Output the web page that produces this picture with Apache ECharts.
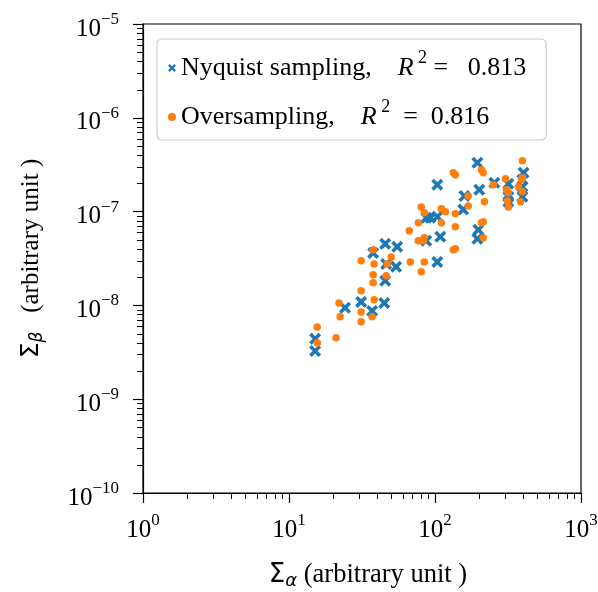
<!DOCTYPE html>
<html><head><meta charset="utf-8">
<script src="https://cdn.jsdelivr.net/npm/echarts@6/dist/echarts.min.js"></script>
<style>html,body{margin:0;padding:0;background:#fff}#c{width:598px;height:592px}</style>
</head><body><div id="c"></div>
<script>
// ---- data ----
const nyquistX = [15.1, 15.1, 24.2, 31.2, 37.1, 44.9, 37.7, 45.6, 55.1, 46.3, 54.2, 45.6, 103.7, 87.1, 103.7, 92.9, 87.1, 108.7, 103.7, 195, 159, 201, 156, 255, 318, 318, 318, 404, 397, 397, 198, 195, 397];
const nyquistY = [4.40e-9, 3.27e-9, 9.42e-9, 1.09e-8, 8.74e-9, 1.06e-8, 3.63e-8, 4.53e-8, 4.21e-8, 2.77e-8, 2.58e-8, 1.83e-8, 1.93e-7, 8.59e-8, 8.79e-8, 8.59e-8, 4.88e-8, 5.38e-8, 2.91e-8, 3.31e-7, 1.47e-7, 1.71e-7, 1.05e-7, 2.03e-7, 1.98e-7, 1.44e-7, 1.27e-7, 2.59e-7, 1.84e-7, 1.44e-7, 6.39e-8, 5.13e-8, 2.18e-7];
const overX = [15.6, 15.6, 21.0, 22.0, 22.4, 31.2, 31.2, 31.2, 38.3, 37.1, 31.2, 37.7, 38.3, 37.7, 37.7, 50.1, 47.1, 46.3, 66.6, 67.7, 80.5, 84.5, 76.8, 80.5, 84.5, 76.8, 83.1, 84.5, 110.5, 117.7, 137.8, 110.5, 137.8, 133.5, 137.8, 208, 214, 251, 304, 309, 318, 313, 318, 373, 391, 397, 385, 397, 397, 169, 218, 169, 208, 214, 214, 133.5, 137.8];
const overY = [5.90e-9, 3.98e-9, 4.51e-9, 1.06e-8, 7.55e-9, 1.43e-8, 8.53e-9, 6.68e-9, 1.15e-8, 7.55e-9, 2.99e-8, 3.91e-8, 2.77e-8, 2.12e-8, 1.74e-8, 3.29e-8, 2.77e-8, 2.07e-8, 6.24e-8, 2.91e-8, 2.28e-8, 2.91e-8, 7.59e-8, 1.12e-7, 9.70e-8, 4.88e-8, 4.88e-8, 5.25e-8, 1.07e-7, 9.95e-8, 9.47e-8, 7.59e-8, 6.89e-8, 2.59e-7, 2.47e-7, 2.79e-7, 2.59e-7, 1.93e-7, 2.24e-7, 1.71e-7, 1.59e-7, 1.30e-7, 1.12e-7, 1.84e-7, 2.18e-7, 2.29e-7, 1.27e-7, 1.63e-7, 3.48e-7, 1.47e-7, 1.27e-7, 1.15e-7, 7.59e-8, 7.78e-8, 5.25e-8, 3.91e-8, 4.01e-8];
const seriesNames = ['Nyquist sampling', 'Oversampling'];
const r2Values = ['0.813', '0.816'];
const xRange = [1, 1000];
const yRange = [1e-10, 1e-5];
const minorMultipliers = [2, 3, 4, 5, 6, 7, 8, 9];

// ---- helpers ----
const SERIF = 'Liberation Serif';
const SANS = 'DejaVu Sans';
function pow10Label(v) {
  const e = Math.round(Math.log10(v));
  return '{b|10}{s|' + (e < 0 ? '\u2212' + (-e) : e) + '}';
}
const tickRich = {
  b: { fontFamily: SERIF, fontSize: 25, lineHeight: 36, color: '#000' },
  s: { fontFamily: SERIF, fontSize: 17, lineHeight: 12, verticalAlign: 'top', color: '#000' }
};
function minorTicks(range) {
  const out = [];
  const e0 = Math.round(Math.log10(range[0])), e1 = Math.round(Math.log10(range[1]));
  for (let e = e0; e < e1; e++) minorMultipliers.forEach(m => out.push(m * Math.pow(10, e)));
  return out;
}

const xSymbol = 'path://M0,2.1 L2.1,0 L5,2.9 L7.9,0 L10,2.1 L7.1,5 L10,7.9 L7.9,10 L5,7.1 L2.1,10 L0,7.9 L2.9,5 Z';

const nameRich = {
  sig: { fontFamily: SANS, fontSize: 25, lineHeight: 30, color: '#000' },
  sub: { fontFamily: SANS, fontStyle: 'italic', fontSize: 17, lineHeight: 18, verticalAlign: 'bottom', color: '#000' },
  t: { fontFamily: SERIF, fontSize: 25, lineHeight: 30, color: '#000' }
};
const xNameRich = {
  sig: { fontFamily: SANS, fontSize: 26, lineHeight: 30, color: '#000' },
  sub: { fontFamily: SANS, fontStyle: 'italic', fontSize: 18, lineHeight: 18, verticalAlign: 'bottom', color: '#000' },
  t: { fontFamily: SERIF, fontSize: 26.5, lineHeight: 30, color: '#000' }
};

const chart = echarts.init(document.getElementById('c'));
chart.setOption({
  animation: false,
  grid: { left: 143, right: 17, top: 24, bottom: 99, show: true, borderColor: '#000', borderWidth: 1.2, containLabel: false, outerBoundsMode: 'none' },
  xAxis: {
    type: 'log', logBase: 10, min: xRange[0], max: xRange[1], splitNumber: 3,
    axisLine: { show: true, lineStyle: { color: '#000', width: 1.2 } },
    axisTick: { show: true, inside: false, length: 10, lineStyle: { color: '#000', width: 1.2 } },
    minorTick: { show: false },
    splitLine: { show: false },
    axisLabel: { margin: 19, formatter: pow10Label, rich: tickRich },
    name: '{sig|\u03A3}{sub|\u03B1}{t| (arbitrary unit )}',
    nameLocation: 'middle', nameGap: 67,
    nameTextStyle: { rich: xNameRich, padding: [0, 0, 0, 12] }
  },
  yAxis: {
    type: 'log', logBase: 10, min: yRange[0], max: yRange[1], splitNumber: 5,
    axisLine: { show: true, lineStyle: { color: '#000', width: 1.2 } },
    axisTick: { show: true, inside: false, length: 10, lineStyle: { color: '#000', width: 1.2 } },
    minorTick: { show: false },
    splitLine: { show: false },
    axisLabel: { margin: 24, padding: [10, 0, 0, 0], formatter: pow10Label, rich: tickRich },
    name: '{sig|\u03A3}{sub|\u03B2}{t|   (arbitrary unit )}',
    nameLocation: 'middle', nameGap: 97, nameRotate: 90,
    nameTextStyle: { rich: nameRich }
  },
  legend: {
    data: seriesNames,
    orient: 'vertical', left: 157, top: 39,
    padding: [10, 20, 10, 11],
    itemGap: 17, itemWidth: 8, itemHeight: 8,
    backgroundColor: '#fff', borderColor: '#cccccc', borderWidth: 1.2, borderRadius: 5,
    formatter: function (name) {
      const i = seriesNames.indexOf(name);
      const gap = '    ';
      const eq = i === 0 ? ' =   ' : '  =  ';
      return '{n|' + name + ',' + gap + '}{r|R}{s| 2}{n|' + eq + r2Values[i] + '}';
    },
    textStyle: {
      rich: {
        n: { fontFamily: SERIF, fontSize: 26, lineHeight: 38, color: '#000' },
        r: { fontFamily: SERIF, fontStyle: 'italic', fontSize: 26, lineHeight: 38, color: '#000' },
        s: { fontFamily: SERIF, fontSize: 18, lineHeight: 18, verticalAlign: 'top', color: '#000' }
      }
    }
  },
  series: [
    {
      name: seriesNames[0], type: 'scatter', symbol: xSymbol, symbolSize: 12,
      itemStyle: { color: '#1f77b4', opacity: 1 },
      data: nyquistX.map((x, i) => [x, nyquistY[i]])
    },
    {
      name: seriesNames[1], type: 'scatter', symbol: 'circle', symbolSize: 7.5,
      itemStyle: { color: '#ff7f0e', opacity: 1 },
      data: overX.map((x, i) => [x, overY[i]])
    }
  ]
});

// minor ticks (2..9 per decade), placed through the chart's own log scales
const tickEls = [];
minorTicks(xRange).forEach(v => {
  const p = chart.convertToPixel({ xAxisIndex: 0, yAxisIndex: 0 }, [v, yRange[0]]);
  const x = Math.round(p[0]) + 0.5;
  tickEls.push({ type: 'line', silent: true, shape: { x1: x, y1: p[1], x2: x, y2: p[1] + 6 }, style: { stroke: '#000', lineWidth: 1 } });
});
minorTicks(yRange).forEach(v => {
  const p = chart.convertToPixel({ xAxisIndex: 0, yAxisIndex: 0 }, [xRange[0], v]);
  const y = Math.round(p[1]) + 0.5;
  tickEls.push({ type: 'line', silent: true, shape: { x1: p[0] - 6, y1: y, x2: p[0], y2: y }, style: { stroke: '#000', lineWidth: 1 } });
});
chart.setOption({ graphic: tickEls });
</script>
</body></html>
